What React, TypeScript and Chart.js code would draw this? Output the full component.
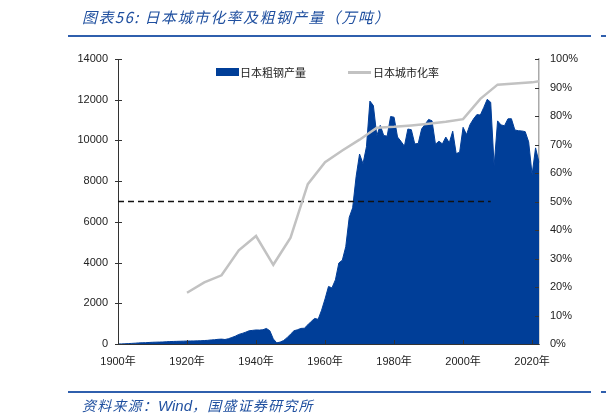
import { useEffect, useRef } from "react";
import { Chart, registerables } from "chart.js";

Chart.register(...registerables);

// 1900年 .. 2022年
const years: number[] = Array.from({ length: 123 }, (_, i) => 1900 + i);

// 日本粗钢产量（万吨）
const steelOutput: number[] = [
  2, 6, 10, 20, 30, 40, 55, 60, 65, 75, // 1900-1909
  85, 90, 95, 100, 110, 120, 125, 130, 135, 140, // 1910-1919
  145, 150, 150, 155, 160, 170, 180, 200, 210, 230, // 1920-1929
  240, 220, 260, 320, 385, 470, 520, 580, 650, 670, // 1930-1939
  690, 685, 700, 765, 650, 250, 56, 95, 172, 311, // 1940-1949
  484, 650, 699, 766, 775, 941, 1111, 1257, 1212, 1663, // 1950-1959
  2214, 2827, 2755, 3150, 3980, 4116, 4778, 6215, 6689, 8217, // 1960-1969
  9332, 8856, 9690, 11932, 11713, 10231, 10740, 10241, 10211, 11175, // 1970-1979
  11140, 10168, 9955, 9718, 10559, 10528, 9828, 9851, 10568, 10791, // 1980-1989
  11034, 10965, 9813, 9962, 9830, 10164, 9880, 10454, 9355, 9419, // 1990-1999
  10644, 10287, 10774, 11051, 11268, 11247, 11622, 12020, 11873, 8753, // 2000-2009
  10960, 10760, 10723, 11060, 11067, 10513, 10478, 10466, 10432, 9929, // 2010-2019
  8319, 9634, 8923, // 2020-2022
];

// 日本城市化率（%）
const urbanYears: number[] = [
  1920, 1925, 1930, 1935, 1940, 1945, 1950, 1955, 1960, 1965, 1970,
  1975, 1980, 1985, 1990, 1995, 2000, 2005, 2010, 2015, 2020, 2022,
];
const urbanRates: number[] = [
  18.0, 21.6, 24.1, 32.9, 37.9, 27.8, 37.3, 56.1, 63.8, 67.9, 71.7,
  75.9, 76.2, 76.7, 77.3, 78.0, 78.9, 86.0, 91.0, 91.4, 91.8, 92.2,
];

// 虚线参考（50%）
const refValue = 7000;
const refStart = 1900;
const refEnd = 2008;

const BLUE = "#003e98";
const GRAY = "#c2c2c2";
const TEXT = "#222";
const TICK_FONT = { family: "'Liberation Sans', Arial, 'Noto Sans CJK SC', sans-serif", size: 11 };

// inward tick marks like the source chart
const tickMarks = {
  id: "tickMarks",
  afterDatasetsDraw(chart: any) {
    const { ctx, chartArea, scales } = chart;
    const { x, y, y1 } = scales;
    ctx.save();
    ctx.lineWidth = 1;
    ctx.strokeStyle = "#333";
    ctx.beginPath();
    y.ticks.forEach((t: any) => {
      const py = Math.round(y.getPixelForValue(t.value)) + 0.5;
      ctx.moveTo(chartArea.left - 3, py);
      ctx.lineTo(chartArea.left + 4, py);
    });
    y1.ticks.forEach((t: any) => {
      const py = Math.round(y1.getPixelForValue(t.value)) + 0.5;
      ctx.moveTo(chartArea.right - 4, py);
      ctx.lineTo(chartArea.right, py);
    });
    years.forEach((yr, i) => {
      if (yr % 20 !== 0) return;
      const px = Math.round(x.getPixelForValue(i)) + 0.5;
      ctx.moveTo(px, chartArea.bottom);
      ctx.lineTo(px, chartArea.bottom - 4);
    });
    ctx.stroke();
    ctx.restore();
  },
};

function SteelChart() {
  const chartRef = useRef<HTMLCanvasElement>(null);
  const chartInstance = useRef<Chart | null>(null);

  useEffect(() => {
    if (!chartRef.current) return;
    if (chartInstance.current) chartInstance.current.destroy();
    const ctx = chartRef.current.getContext("2d");
    if (!ctx) return;

    const labels = years.map(String);

    chartInstance.current = new Chart(ctx, {
      type: "line",
      data: {
        labels,
        datasets: [
          {
            label: "日本粗钢产量",
            data: steelOutput,
            yAxisID: "y",
            fill: "origin",
            backgroundColor: BLUE,
            borderColor: BLUE,
            borderWidth: 1,
            pointRadius: 0,
            tension: 0,
            order: 3,
          },
          {
            label: "日本城市化率",
            data: urbanYears.map((yr, i) => ({ x: String(yr), y: urbanRates[i] })) as any,
            yAxisID: "y1",
            borderColor: GRAY,
            borderWidth: 2.5,
            pointRadius: 0,
            tension: 0,
            fill: false,
            order: 1,
          },
          {
            label: "ref",
            data: [
              { x: String(refStart), y: refValue },
              { x: String(refEnd), y: refValue },
            ] as any,
            yAxisID: "y",
            borderColor: "#111",
            borderWidth: 1.3,
            borderDash: [6, 4],
            pointRadius: 0,
            fill: false,
            order: 2,
          },
        ],
      },
      options: {
        responsive: false,
        animation: false,
        layout: { padding: { top: 59, left: 0, right: 0, bottom: 42 } },
        plugins: {
          legend: { display: false },
          tooltip: { enabled: false },
        },
        scales: {
          x: {
            type: "category",
            offset: false,
            grid: { display: false, drawTicks: false },
            border: { color: "#333", width: 1 },
            ticks: {
              autoSkip: false,
              maxRotation: 0,
              padding: 11,
              color: TEXT,
              font: TICK_FONT,
              callback: (_v: any, i: number) => (years[i] % 20 === 0 ? years[i] + "年" : null),
            },
            afterFit: (s: any) => {
              s.height = 30;
            },
          },
          y: {
            position: "left",
            min: 0,
            max: 14000,
            grid: { display: false, drawTicks: false },
            border: { color: "#333", width: 1 },
            ticks: {
              stepSize: 2000,
              padding: 10,
              color: TEXT,
              font: TICK_FONT,
              callback: (v: any) => String(v),
            },
            afterFit: (s: any) => {
              s.width = 118;
            },
          },
          y1: {
            position: "right",
            min: 0,
            max: 100,
            grid: { display: false, drawTicks: false },
            border: { color: "#aaa", width: 1.5 },
            ticks: {
              stepSize: 10,
              padding: 11,
              color: TEXT,
              font: TICK_FONT,
              callback: (v: any) => v + "%",
            },
            afterFit: (s: any) => {
              s.width = 67;
            },
          },
        },
      },
      plugins: [tickMarks],
    });

    return () => {
      if (chartInstance.current) {
        chartInstance.current.destroy();
        chartInstance.current = null;
      }
    };
  }, []);

  return <canvas ref={chartRef} width={606} height={416} style={{ position: "absolute", left: 0, top: 0 }} />;
}

const headColor = "#1f4f9f";
const ruleColor = "#2f5fad";
const cjkItalic = "'Noto Sans CJK SC', 'Liberation Sans', sans-serif";
const legendFont = "'Noto Sans CJK SC', 'Liberation Sans', sans-serif";

export default function App() {
  return (
    <div
      style={{
        position: "absolute",
        left: 0,
        top: 0,
        width: 606,
        height: 416,
        background: "#fff",
        overflow: "hidden",
      }}
    >
      <SteelChart />
      <div
        style={{
          position: "absolute",
          left: 82,
          top: 7,
          fontFamily: cjkItalic,
          fontStyle: "italic",
          fontSize: 15,
          letterSpacing: 1.4,
          lineHeight: "20px",
          color: headColor,
          whiteSpace: "nowrap",
        }}
      >
        图表56: 日本城市化率及粗钢产量（万吨）
      </div>
      <div style={{ position: "absolute", left: 68, top: 35, width: 523, height: 2, background: ruleColor }} />
      <div style={{ position: "absolute", left: 601, top: 35, width: 5, height: 2, background: ruleColor }} />

      {/* legend */}
      <div style={{ position: "absolute", left: 216, top: 68, width: 23, height: 8, background: BLUE }} />
      <div
        style={{
          position: "absolute",
          left: 240,
          top: 64,
          fontFamily: legendFont,
          fontSize: 11,
          lineHeight: "16px",
          color: TEXT,
          whiteSpace: "nowrap",
        }}
      >
        日本粗钢产量
      </div>
      <div style={{ position: "absolute", left: 348, top: 71, width: 23, height: 2.5, background: GRAY }} />
      <div
        style={{
          position: "absolute",
          left: 373,
          top: 64,
          fontFamily: legendFont,
          fontSize: 11,
          lineHeight: "16px",
          color: TEXT,
          whiteSpace: "nowrap",
        }}
      >
        日本城市化率
      </div>

      <div style={{ position: "absolute", left: 68, top: 391, width: 523, height: 2, background: ruleColor }} />
      <div style={{ position: "absolute", left: 601, top: 391, width: 5, height: 2, background: ruleColor }} />
      <div
        style={{
          position: "absolute",
          left: 82,
          top: 396,
          fontFamily: cjkItalic,
          fontStyle: "italic",
          fontSize: 14,
          letterSpacing: 1.2,
          lineHeight: "18px",
          color: headColor,
          whiteSpace: "nowrap",
        }}
      >
        资料来源：<span style={{ letterSpacing: 0, fontFamily: "'Liberation Sans', sans-serif", fontSize: 15 }}>Wind</span>，国盛证券研究所
      </div>
    </div>
  );
}
